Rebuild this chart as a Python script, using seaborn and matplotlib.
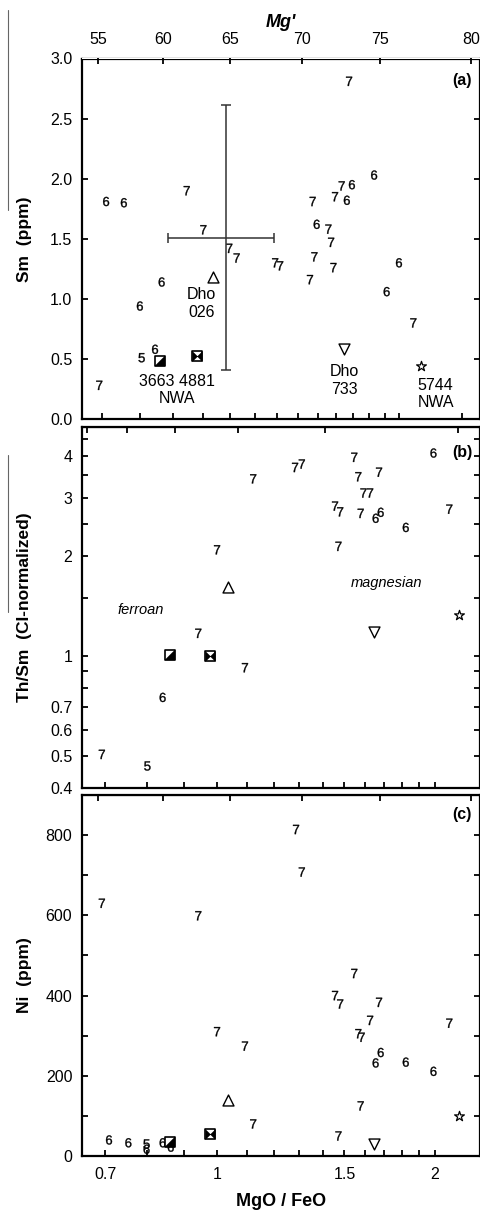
import numpy as np
import matplotlib
matplotlib.use('Agg')
import matplotlib.pyplot as plt
import matplotlib.ticker as mticker
from matplotlib.path import Path
from matplotlib.lines import Line2D
import seaborn as sns

# panel (a): Sm (ppm) vs MgO/FeO, numbers = group labels
a_mgfe = [1.675, 0.710, 0.756, 0.944, 1.001, 1.097, 1.126, 1.290, 1.313, 1.473,
          1.594, 1.632, 1.692, 1.662, 1.830, 1.494, 1.557, 1.572, 1.482, 1.585,
          1.459, 1.998, 1.913, 0.864, 0.800, 2.102, 0.844, 0.805, 0.693]
a_sm = [2.81, 1.81, 1.80, 1.90, 1.575, 1.42, 1.34, 1.30, 1.275, 1.81,
        1.85, 1.94, 1.95, 1.82, 2.03, 1.62, 1.58, 1.47, 1.35, 1.26,
        1.16, 1.30, 1.06, 1.14, 0.94, 0.80, 0.58, 0.51, 0.28]
a_grp = ['7', '6', '6', '7', '7', '7', '7', '7', '7', '7',
         '7', '7', '6', '6', '6', '6', '7', '7', '7', '7',
         '7', '6', '6', '6', '6', '7', '6', '5', '7']

# panel (b): Th/Sm (CI-normalized)
b_mgfe = [1.992, 1.548, 1.282, 1.310, 1.122, 1.568, 1.675, 1.594, 1.628, 1.456,
          1.480, 1.580, 1.657, 1.684, 2.095, 1.824, 1.472, 1.000, 0.942, 1.093,
          0.841, 0.693, 0.801]
b_thsm = [4.09, 3.97, 3.70, 3.79, 3.42, 3.47, 3.58, 3.10, 3.10, 2.83,
          2.72, 2.69, 2.60, 2.71, 2.77, 2.44, 2.14, 2.09, 1.17, 0.922,
          0.75, 0.505, 0.466]
b_grp = ['6', '7', '7', '7', '7', '7', '7', '7', '7', '7',
         '7', '7', '6', '6', '7', '6', '7', '7', '7', '7',
         '6', '7', '5']

# panel (c): Ni (ppm)
c_mgfe = [1.286, 1.310, 0.693, 0.942, 1.548, 1.456, 1.480, 1.675, 1.628, 2.095,
          1.000, 1.568, 1.585, 1.093, 1.684, 1.657, 1.824, 1.992, 1.580, 1.122,
          1.472, 0.709, 0.754, 0.799, 0.799, 0.841, 0.863]
c_ni = [814, 708, 630, 599, 455, 400, 379, 383, 338, 331,
        310, 305, 296, 274, 258, 232, 234, 211, 125, 80,
        50, 40, 33, 30, 17, 33, 22]
c_grp = ['7', '7', '7', '7', '7', '7', '7', '7', '7', '7',
         '7', '7', '7', '7', '6', '6', '6', '6', '7', '7',
         '7', '6', '6', '5', '6', '6', '6']

# named meteorites
smp_names = ['Dho 026', 'Dho 733', 'NWA 5744', 'NWA 3663', 'NWA 4881']
smp_mgfe = [1.036, 1.648, 2.162, 0.860, 0.978]
smp_sm = [1.18, 0.58, 0.44, 0.48, 0.525]
smp_thsm = [1.61, 1.18, 1.33, 1.01, 1.00]
smp_ni = [139, 30, 99, 36, 55]

# typical range cross in (a)
err_mgfe, err_sm = 1.085, 1.51
err_dx, err_dsm = 0.2, 1.1

mg_ticks = [55, 60, 65, 70, 75, 80]

sns.set_style('ticks')
plt.rcParams['font.family'] = ['Liberation Sans', 'DejaVu Sans']
plt.rcParams['mathtext.fontset'] = 'custom'
plt.rcParams['mathtext.rm'] = 'Liberation Sans'
plt.rcParams['mathtext.it'] = 'Liberation Sans:italic'
plt.rcParams['mathtext.bf'] = 'Liberation Sans:bold'
for key in ['text.color', 'axes.labelcolor', 'xtick.color', 'ytick.color', 'axes.edgecolor']:
    plt.rcParams[key] = 'black'

FS = 11.5
num_markers = {'5': '$5$', '6': '$6$', '7': '$7$'}

half_sq = Path([(-1, -1), (1, -1), (1, 1), (-1, -1)],
               [Path.MOVETO, Path.LINETO, Path.LINETO, Path.CLOSEPOLY])
bowtie = Path([(-1, -1), (0, 0), (-1, 1), (-1, -1), (1, -1), (0, 0), (1, 1), (1, -1)],
              [Path.MOVETO, Path.LINETO, Path.LINETO, Path.CLOSEPOLY] * 2)


def mg_fwd(r):
    r = np.asarray(r, dtype=float)
    k = 1.783 * r
    return 100 * k / (1 + k)


def mg_inv(m):
    m = np.clip(np.asarray(m, dtype=float), 1, 99.5)
    return m / (100 - m) / 1.783


def draw_points(ax, x, y, grp, sy):
    sns.scatterplot(x=x, y=y, style=grp, markers=num_markers, s=44, color='black',
                    edgecolor='black', linewidth=0.25, legend=False, ax=ax)
    sy = list(sy)
    sm = smp_mgfe
    sns.scatterplot(x=[sm[0]], y=[sy[0]], marker='^', s=62, facecolor='white',
                    edgecolor='black', linewidth=1.0, ax=ax)
    sns.scatterplot(x=[sm[1]], y=[sy[1]], marker='v', s=62, facecolor='white',
                    edgecolor='black', linewidth=1.0, ax=ax)
    sns.scatterplot(x=[sm[2]], y=[sy[2]], marker='*', s=55, facecolor='white',
                    edgecolor='black', linewidth=0.9, ax=ax)
    sns.scatterplot(x=sm[3:5], y=sy[3:5], marker='s', s=50, facecolor='white',
                    edgecolor='black', linewidth=1.2, ax=ax)
    sns.scatterplot(x=[sm[3]], y=[sy[3]], marker=half_sq, s=50, color='black',
                    linewidth=0.3, edgecolor='black', ax=ax)
    sns.scatterplot(x=[sm[4]], y=[sy[4]], marker=bowtie, s=50, color='black',
                    linewidth=0.3, edgecolor='black', ax=ax)


def style_ax(ax):
    for sp in ax.spines.values():
        sp.set_visible(True)
        sp.set_linewidth(1.6)
    ax.tick_params(which='both', direction='in', length=4, width=1.3,
                   right=True, labelsize=FS, pad=7)
    ax.set_xscale('log')
    ax.xaxis.set_minor_locator(mticker.NullLocator())


fig = plt.figure(figsize=(4.81, 12.11), dpi=100)
W, H = 481, 1211
L, R = 82, 480


def box(top, bot):
    return [L / W, 1 - bot / H, (R - L) / W, (bot - top) / H]


ax_a = fig.add_axes(box(58.5, 419))
ax_b = fig.add_axes(box(427, 788))
ax_c = fig.add_axes(box(795, 1156))

# ---- (a)
style_ax(ax_a)
draw_points(ax_a, a_mgfe, a_sm, a_grp, smp_sm)
ax_a.errorbar(err_mgfe, err_sm, xerr=err_dx, yerr=err_dsm, fmt='none',
              ecolor='#333333', elinewidth=1.1, capsize=3.5, capthick=1.1)
ax_a.set_xlim(0.652, 2.66)
ax_a.set_ylim(0, 3.0)
ax_a.set_xticks([0.7, 0.8, 0.9, 1.0, 1.1, 1.2, 1.3, 1.4, 1.5, 1.6, 1.7, 1.8, 1.9, 2.0, 2.5],
                labels=[''] * 15)
ax_a.set_yticks(np.arange(0, 3.01, 0.5))
ax_a.yaxis.set_major_formatter(mticker.FormatStrFormatter('%.1f'))
ax_a.set_ylabel('Sm  (ppm)', fontsize=12.5, fontweight='bold')
ax_a.yaxis.set_label_coords(-0.125, 0.5)
ax_a.text(0.98, 0.94, '(a)', transform=ax_a.transAxes, ha='right', va='center',
          fontsize=FS, fontweight='bold')
ax_a.text(0.995, 0.96, 'Dho\n026', ha='center', va='center', fontsize=FS)
ax_a.text(0.912, 0.24, '3663 4881\nNWA', ha='center', va='center', fontsize=FS)
ax_a.text(1.646, 0.32, 'Dho\n733', ha='center', va='center', fontsize=FS)
ax_a.text(2.274, 0.21, '5744\nNWA', ha='center', va='center', fontsize=FS)

# ---- (b)
style_ax(ax_b)
draw_points(ax_b, b_mgfe, b_thsm, b_grp, smp_thsm)
ax_b.set_yscale('log')
ax_b.yaxis.set_minor_locator(mticker.NullLocator())
ax_b.set_xlim(0.6505, 2.31)
ax_b.set_ylim(0.4, 4.9)
x_ticks = [0.7, 0.8, 0.9, 1.0, 1.1, 1.2, 1.3, 1.4, 1.5, 1.6, 1.7, 1.8, 1.9, 2.0]
x_labels = ['0.7', '', '', '1', '', '', '', '', '1.5', '', '', '', '', '2']
ax_b.set_xticks(x_ticks, labels=[''] * len(x_ticks))
b_yt = [0.4, 0.5, 0.6, 0.7, 0.8, 0.9, 1, 1.5, 2, 2.5, 3, 3.5, 4, 4.5]
b_yl = ['0.4', '0.5', '0.6', '0.7', '', '', '1', '', '2', '', '3', '', '4', '']
ax_b.set_yticks(b_yt, labels=b_yl)
ax_b.set_ylabel('Th/Sm  (CI-normalized)', fontsize=12.5, fontweight='bold')
ax_b.yaxis.set_label_coords(-0.125, 0.5)
ax_b.text(0.98, 0.93, '(b)', transform=ax_b.transAxes, ha='right', va='center',
          fontsize=FS, fontweight='bold')
ax_b.text(1.717, 1.66, 'magnesian', ha='center', va='center', fontsize=10.5, style='italic')
ax_b.text(0.784, 1.376, 'ferroan', ha='center', va='center', fontsize=10.5, style='italic')
top_b = ax_b.secondary_xaxis('top')
top_b.set_xticks([0.66, 0.751, 0.875, 1.069, 1.411, 2.155], labels=[''] * 6)
top_b.xaxis.set_minor_locator(mticker.NullLocator())
top_b.tick_params(direction='in', length=4, width=1.3)

# Mg' scale at top of (a), built on the (b)/(c) MgO/FeO axis
mg_ax = ax_b.secondary_xaxis(1 + (427 - 58.5) / 361, functions=(mg_fwd, mg_inv))
mg_ax.set_xticks(mg_ticks, labels=[str(t) for t in mg_ticks])
mg_ax.xaxis.set_minor_locator(mticker.NullLocator())
mg_ax.tick_params(direction='in', length=4, width=1.3, labelsize=FS, pad=8)
mg_ax.spines['top'].set_visible(False)
mg_ax.set_xlabel("Mg'", fontsize=13, fontweight='bold', style='italic', labelpad=4)

# ---- (c)
style_ax(ax_c)
draw_points(ax_c, c_mgfe, c_ni, c_grp, smp_ni)
ax_c.set_xlim(0.6505, 2.31)
ax_c.set_ylim(0, 900)
ax_c.set_xticks(x_ticks, labels=x_labels)
ax_c.set_yticks(np.arange(0, 801, 100),
                labels=['0', '', '200', '', '400', '', '600', '', '800'])
ax_c.tick_params(axis='x', pad=8)
ax_c.set_ylabel('Ni  (ppm)', fontsize=12.5, fontweight='bold')
ax_c.yaxis.set_label_coords(-0.125, 0.5)
ax_c.set_xlabel('MgO / FeO', fontsize=13, fontweight='bold', labelpad=8)
ax_c.text(0.98, 0.945, '(c)', transform=ax_c.transAxes, ha='right', va='center',
          fontsize=FS, fontweight='bold')
top_c = ax_c.secondary_xaxis('top', functions=(mg_fwd, mg_inv))
top_c.set_xticks(mg_ticks, labels=[''] * len(mg_ticks))
top_c.xaxis.set_minor_locator(mticker.NullLocator())
top_c.tick_params(direction='in', length=4, width=1.3)

# thin scan lines at the left edge
fig.add_artist(Line2D([8 / W, 8 / W], [1 - 10 / H, 1 - 210 / H], color='0.4', lw=0.8))
fig.add_artist(Line2D([8 / W, 8 / W], [1 - 455 / H, 1 - 612 / H], color='0.4', lw=0.8))

fig.savefig('out.png', dpi=100)
